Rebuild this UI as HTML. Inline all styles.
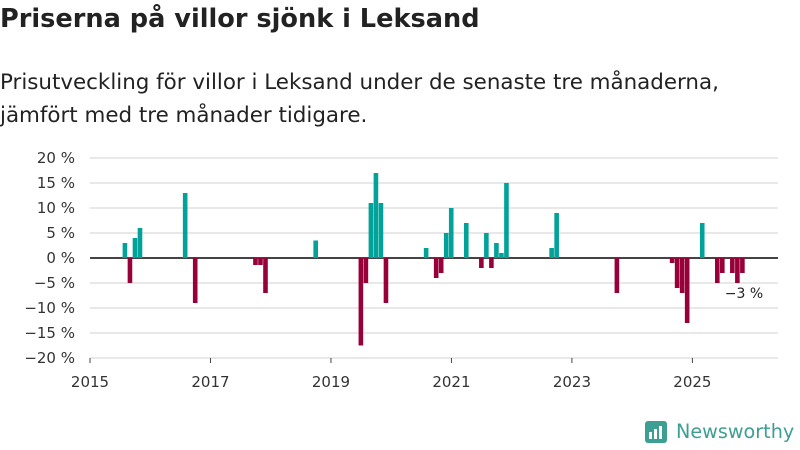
<!DOCTYPE html>
<html><head><meta charset="utf-8"><style>
body{margin:0;width:800px;height:450px;background:#fff;font-family:"DejaVu Sans",sans-serif;overflow:hidden;position:relative}
h1{position:absolute;left:0;top:4px;margin:0;font-size:25.6px;font-weight:bold;color:#222;white-space:nowrap}
.sub{position:absolute;left:0;top:66px;font-size:21.4px;line-height:33px;color:#222;white-space:nowrap}
</style></head><body>
<h1>Priserna på villor sjönk i Leksand</h1>
<div class="sub">Prisutveckling för villor i Leksand under de senaste tre månaderna,<br>jämfört med tre månader tidigare.</div>
<svg id="chart" width="800" height="450" style="position:absolute;left:0;top:0"></svg>
<div style="position:absolute;left:645px;top:420px;display:flex;align-items:center">
<div style="width:22px;height:22px;background:#3d9e93;border-radius:3px;position:relative"><div style="position:absolute;left:4px;bottom:4px;width:3px;height:7px;background:#fff"></div><div style="position:absolute;left:9px;bottom:4px;width:3px;height:10px;background:#fff"></div><div style="position:absolute;left:14px;bottom:4px;width:3px;height:13px;background:#fff"></div></div>
<span style="margin-left:9px;font-size:19.2px;color:#3d9e93">Newsworthy</span></div>
<script>
const monthIdx=[6,7,8,9,18,20,32,33,34,44,53,54,55,56,57,58,66,68,69,70,71,74,77,78,79,80,81,82,91,92,104,115,116,117,118,121,124,125,127,128,129];
const values=[3,-5,4,6,13,-9,-1.4,-1.4,-7,3.5,-17.5,-5,11,17,11,-9,2,-4,-3,5,10,7,-2,5,-2,3,1,15,2,9,-7,-1,-6,-7,-13,7,-5,-3,-3,-5,-3];
const yTicks=[20,15,10,5,0,-5,-10,-15,-20];
const xTickYears=[2015,2017,2019,2021,2023,2025];
const svg=document.getElementById('chart');
const NS='http://www.w3.org/2000/svg';
const y=v=>258-v*5;
const x=m=>90+m*5.02;
function mk(t,a){const e=document.createElementNS(NS,t);for(const k in a)e.setAttribute(k,a[k]);svg.appendChild(e);return e;}
yTicks.forEach(t=>{
 const l=mk('line',{x1:90,x2:778,y1:y(t),y2:y(t),stroke:t===0?'#444':'#e0e0e0','stroke-width':t===0?2:1.5});
 
 
 const tx=mk('text',{x:75,y:y(t)+5,'text-anchor':'end','font-size':15,fill:'#333','font-family':'DejaVu Sans'});
 tx.textContent=(t<0?'−'+(-t):t)+' %';
 
 
});
xTickYears.forEach(yr=>{
 const m=(yr-2015)*12;
 const tk=mk('line',{x1:x(m),x2:x(m),y1:358,y2:363,stroke:'#444','stroke-width':1});
 
 
 const tx=mk('text',{x:x(m),y:387,'text-anchor':'middle','font-size':15,fill:'#333','font-family':'DejaVu Sans'});
 tx.textContent=yr;
 
 
});
monthIdx.forEach((m,i)=>{
 const v=values[i];
 const r=mk('rect',{x:x(m+0.5),width:4.6,y:v>=0?y(v):y(0),height:Math.abs(v)*5,fill:v>=0?'#00a29a':'#970038'});
 
 
});
const lbl=mk('text',{x:744,y:298,'text-anchor':'middle','font-size':14,fill:'#222','font-family':'DejaVu Sans'});
lbl.textContent='−3 %';


</script>
</body></html>
